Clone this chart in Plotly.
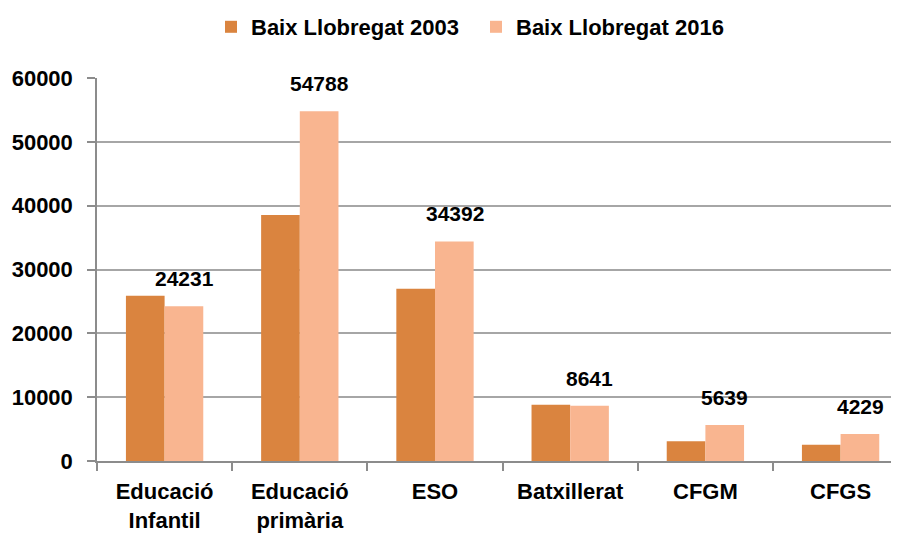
import plotly.graph_objects as go

categories = ["Educació<br>Infantil", "Educació<br>primària", "ESO", "Batxillerat", "CFGM", "CFGS"]
series_names = ["Baix Llobregat 2003", "Baix Llobregat 2016"]
values_2003 = [25900, 38550, 27000, 8800, 3100, 2550]
values_2016 = [24231, 54788, 34392, 8641, 5639, 4229]
y_ticks = [0, 10000, 20000, 30000, 40000, 50000, 60000]

FONT = "Liberation Sans, Arial, sans-serif"
C2003 = "#DA843F"
C2016 = "#F9B590"

fig = go.Figure()
fig.add_trace(go.Bar(x=categories, y=values_2003, name=series_names[0],
                     marker=dict(color=C2003, line=dict(width=0))))
fig.add_trace(go.Bar(x=categories, y=values_2016, name=series_names[1],
                     marker=dict(color=C2016, line=dict(width=0))))

for i, v in enumerate(values_2016):
    fig.add_annotation(x=i, y=v, text=str(v), showarrow=False,
                       xref="x", yref="y", xshift=19.5, yshift=14,
                       yanchor="bottom", xanchor="center",
                       font=dict(family=FONT, size=21, color="black", weight="bold"))

fig.update_layout(
    width=899, height=535,
    margin=dict(l=89, r=8, t=70, b=82, autoexpand=False),
    paper_bgcolor="white", plot_bgcolor="white",
    barmode="group", bargap=0.428, bargroupgap=0,
    font=dict(family=FONT, size=22, color="black", weight="bold"),
    legend=dict(orientation="h", x=203 / 899, xanchor="left", xref="container",
                y=1 - 19 / 535, yref="container", yanchor="middle",
                font=dict(family=FONT, size=22, color="black", weight="bold"),
                itemwidth=30, tracegroupgap=0,
                entrywidth=220, entrywidthmode="pixels"),
    showlegend=True,
)
fig.update_xaxes(
    range=[-0.5, 5.432], showline=True, linecolor="#8C8C8C", linewidth=1.5,
    ticks="outside", tickson="boundaries", ticklen=8, tickcolor="#8C8C8C", tickwidth=1.5,
    showgrid=False, tickfont=dict(family=FONT, size=22, color="black", weight="bold"),
    ticklabelstandoff=10, automargin=False,
)
fig.update_yaxes(
    range=[0, 60000], tickvals=y_ticks, ticktext=[str(t) for t in y_ticks],
    showline=True, linecolor="#8C8C8C", linewidth=1.5,
    ticks="outside", ticklen=8, tickcolor="#8C8C8C", tickwidth=1.5,
    showgrid=True, gridcolor="#A6A6A6", gridwidth=1.5, zeroline=False,
    tickfont=dict(family=FONT, size=22, color="black", weight="bold"),
    ticklabelstandoff=10, automargin=False,
)

fig.write_html("out.html")
